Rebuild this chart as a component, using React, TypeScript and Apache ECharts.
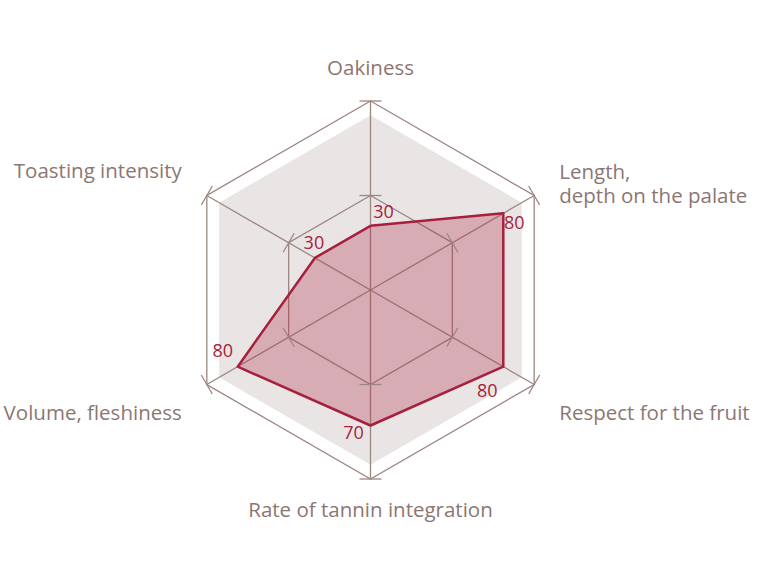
import React, { useEffect, useRef } from "react";
import * as echarts from "echarts";

const indicatorNames = [
  "Oakiness",
  "Toasting intensity",
  "Volume, fleshiness",
  "Rate of tannin integration",
  "Respect for the fruit",
  "Length,\ndepth on the palate",
];
const scores = [30, 30, 80, 70, 80, 80];
const backdropLevel = [92, 92, 92, 92, 92, 92];
const axisMin = -6;
const axisMax = 100;
const labelOffsets: [number, number][] = [
  [13, -15],
  [-1, -16],
  [-15, -17],
  [-17, 6],
  [-16, 23],
  [11, 9],
];
// rich-text padding per axis name [top, right, bottom, left]
const namePadding: number[][] = [
  [0, 0, 0, 0],
  [0, 6, 30, 0],
  [32, 6, 0, 0],
  [0, 0, 0, 0],
  [32, 0, 0, 6],
  [0, 0, 3, 6],
];
const nameLineHeight = [24, 24, 24, 16, 24, 24];

const LINE = "#9c8681";
const TEXT = "#8c7672";
const RED = "#a51f3c";
const FONT = "'Open Sans', Lato, sans-serif";
const W = 768;
const H = 582;
const CX = 370.5;
const CY = 290;
const R = 189;
const TICK_HALF = 11;
const SPLITS = 2;

export default function App() {
  const ref = useRef<HTMLDivElement>(null);
  useEffect(() => {
    if (!ref.current) return;
    const chart = echarts.init(ref.current, undefined, { renderer: "svg" });
    const indicator = indicatorNames.map((name) => ({ name, max: axisMax, min: axisMin }));
    const rich: Record<string, any> = {};
    namePadding.forEach((p, i) => {
      rich["n" + i] = {
        color: TEXT,
        fontSize: 20.5,
        fontFamily: FONT,
        lineHeight: nameLineHeight[i],
        padding: p,
      };
    });
    const labelItems = scores.map((v, i) => ({
      value: scores.map((_, j) => (j === i ? v : "-")),
      label: {
        show: true,
        position: "inside",
        offset: labelOffsets[i],
        formatter: (p: any) => {
          const val = Array.isArray(p.value) ? p.value[i] : p.value;
          return typeof val === "number" && !isNaN(val) ? String(val) : "";
        },
        color: RED,
        fontSize: 18,
        fontFamily: FONT,
      },
    }));
    // tick marks perpendicular to each axis at the split levels
    const ticks: any[] = [];
    indicatorNames.forEach((_, i) => {
      const ang = ((90 + i * 60) * Math.PI) / 180;
      const dx = Math.cos(ang);
      const dy = -Math.sin(ang);
      for (let s = 1; s <= SPLITS; s++) {
        const r = (s / SPLITS) * R;
        const px = CX + dx * r;
        const py = CY + dy * r;
        const nx = -dy * TICK_HALF;
        const ny = dx * TICK_HALF;
        ticks.push({
          type: "line",
          z: 10,
          silent: true,
          shape: { x1: px - nx, y1: py - ny, x2: px + nx, y2: py + ny },
          style: { stroke: LINE, lineWidth: 1.3 },
        });
      }
    });
    chart.setOption({
      animation: false,
      graphic: ticks,
      radar: [
        {
          z: 2,
          indicator,
          center: [CX, CY],
          radius: R,
          startAngle: 90,
          shape: "polygon",
          splitNumber: SPLITS,
          nameGap: 22,
          axisName: {
            color: TEXT,
            fontSize: 20.5,
            fontFamily: FONT,
            lineHeight: 24,
            formatter: (name: string) => {
              const i = indicatorNames.indexOf(name);
              return name
                .split("\n")
                .map((line) => `{n${i}|${line}}`)
                .join("\n");
            },
            rich,
          },
          axisLine: { lineStyle: { color: LINE, width: 1.3 } },
          splitLine: { lineStyle: { color: LINE, width: 1.3 } },
          splitArea: { show: false },
          axisTick: { show: false },
          axisLabel: { show: false },
        },
      ],
      series: [
        {
          type: "radar",
          radarIndex: 0,
          silent: true,
          z: 1,
          symbol: "none",
          lineStyle: { width: 0, opacity: 0 },
          areaStyle: { color: "#e9e5e5", opacity: 1 },
          data: [{ value: backdropLevel }],
        },
        {
          type: "radar",
          radarIndex: 0,
          z: 3,
          symbol: "none",
          lineStyle: { color: RED, width: 2.5 },
          areaStyle: { color: "rgba(175, 40, 70, 0.3)", opacity: 1 },
          data: [{ value: scores }],
        },
        {
          type: "radar",
          radarIndex: 0,
          z: 4,
          symbol: "circle",
          symbolSize: 1,
          itemStyle: { color: "transparent" },
          lineStyle: { opacity: 0, width: 0 },
          data: labelItems,
        },
      ],
    });
    return () => chart.dispose();
  }, []);
  return (
    <div
      ref={ref}
      style={{ position: "absolute", left: 0, top: 0, width: W, height: H }}
    />
  );
}
